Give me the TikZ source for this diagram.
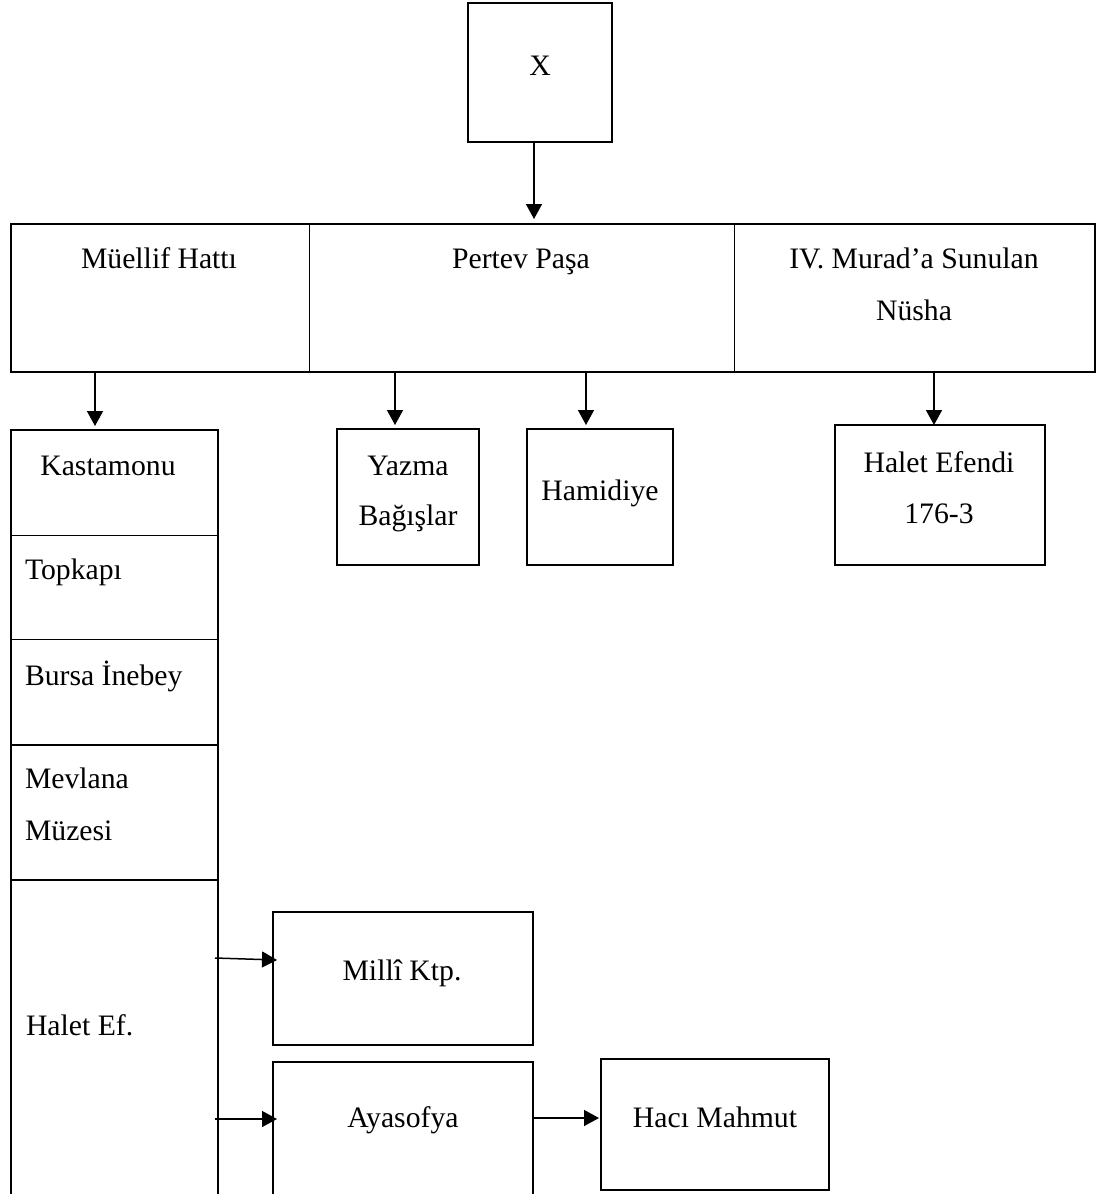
\documentclass[tikz,border=0pt]{standalone}
\usepackage{fontspec}
\setmainfont{Liberation Serif}
\usetikzlibrary{arrows.meta}
\tikzset{
  cell/.style={inner sep=0pt, outer sep=0pt, minimum width=#1},
  boxline/.style={line width=2pt},
  thinline/.style={line width=1pt},
  midline/.style={line width=1.8pt},
  txt/.style={inner sep=0pt, outer sep=0pt, anchor=base, font=\fontsize{29.7pt}{36pt}\selectfont},
  ltxt/.style={txt, anchor=base west},
  arr/.style={line width=1.5pt, -{Triangle[length=15pt,width=16pt]}}
}
\begin{document}
\begin{tikzpicture}[x=1pt,y=-1pt]
\useasboundingbox (0,0) rectangle (1100,1194);
% top box
\node[cell=144pt, minimum height=139pt, draw, boxline] (X) at (540,72.5) {};
\node[txt] (Xt) at (540,75) {X};
% bar
\node[cell=298pt, minimum height=148pt] (muellif) at (160,298) {};
\node[cell=425pt, minimum height=148pt] (pertev) at (521.5,298) {};
\node[cell=361pt, minimum height=148pt] (murad) at (914.5,298) {};
\draw[boxline] (muellif.north west) rectangle (murad.south east);
\draw[thinline] (muellif.north east) -- (muellif.south east);
\draw[thinline] (murad.north west) -- (murad.south west);
\node[txt] (muellift) at (159,268) {Müellif Hattı};
\node[txt] (pertevt) at (521,268) {Pertev Paşa};
\node[txt] (muradA) at (914,268) {IV. Murad’a Sunulan};
\node[txt] (muradB) at (914,320) {Nüsha};
% left column
\node[cell=207pt, minimum height=105pt] (kast) at (114.5,482.5) {};
\node[cell=207pt, minimum height=104pt] (topk) at (114.5,587) {};
\node[cell=207pt, minimum height=106pt] (bursa) at (114.5,692) {};
\node[cell=207pt, minimum height=135pt] (mevl) at (114.5,812.5) {};
\node[cell=207pt, minimum height=318pt] (halet) at (114.5,1039) {};
\draw[boxline] (halet.south west) -- (kast.north west) -- (kast.north east) -- (halet.south east);
\draw[thinline] (kast.south west) -- (kast.south east);
\draw[thinline] (topk.south west) -- (topk.south east);
\draw[midline] (bursa.south west) -- (bursa.south east);
\draw[midline] (mevl.south west) -- (mevl.south east);
\node[txt] (kastt) at (108,475) {Kastamonu};
\node[ltxt] (topkt) at (25,579) {Topkapı};
\node[ltxt] (bursat) at (25,685) {Bursa İnebey};
\node[ltxt] (mevlA) at (25,788) {Mevlana};
\node[ltxt] (mevlB) at (25,840) {Müzesi};
\node[ltxt] (halett) at (26,1035) {Halet Ef.};
% Pertev children
\node[cell=142pt, minimum height=136pt, draw, boxline] (yazma) at (408,497) {};
\node[txt] (yazmaA) at (408,475) {Yazma};
\node[txt] (yazmaB) at (408,525) {Bağışlar};
\node[cell=146pt, minimum height=136pt, draw, boxline] (hamid) at (600,497) {};
\node[txt] (hamidt) at (600,500) {Hamidiye};
% Murad child
\node[cell=210pt, minimum height=140pt, draw, boxline] (hefendi) at (940,495) {};
\node[txt] (hefA) at (939,472) {Halet Efendi};
\node[txt] (hefB) at (939,523) {176-3};
% Halet Ef. children
\node[cell=260pt, minimum height=133pt, draw, boxline] (milli) at (403,978.5) {};
\node[txt] (millit) at (402,980) {Millî Ktp.};
\node[cell=260pt, minimum height=136pt] (ayas) at (403,1130) {};
\draw[boxline] (ayas.south west) -- (ayas.north west) -- (ayas.north east) -- (ayas.south east);
\node[txt] (ayast) at (403,1127) {Ayasofya};
\node[cell=228pt, minimum height=131pt, draw, boxline] (haci) at (715,1124.5) {};
\node[txt] (hacit) at (715,1127) {Hacı Mahmut};
% connectors
\draw[arr] (X.south -| 534,0) -- ([yshift=5pt]pertev.north -| 534,0);
\draw[arr] (muellif.south -| 95,0) -- ([yshift=4pt]kast.north -| 95,0);
\draw[arr] (pertev.south -| 395,0) -- ([yshift=4pt]yazma.north -| 395,0);
\draw[arr] (pertev.south -| 586,0) -- ([yshift=4pt]hamid.north -| 586,0);
\draw[arr] (murad.south -| 934,0) -- (hefendi.north -| 934,0);
\draw[arr] ([xshift=-3pt]halet.east |- 0,958) -- ([xshift=4pt]milli.west |- 0,960);
\draw[arr] ([xshift=-3pt]halet.east |- 0,1119) -- ([xshift=4pt]ayas.west |- 0,1119);
\draw[arr] (ayas.east |- 0,1118) -- ([xshift=-2pt]haci.west |- 0,1118);
\end{tikzpicture}
\end{document}
